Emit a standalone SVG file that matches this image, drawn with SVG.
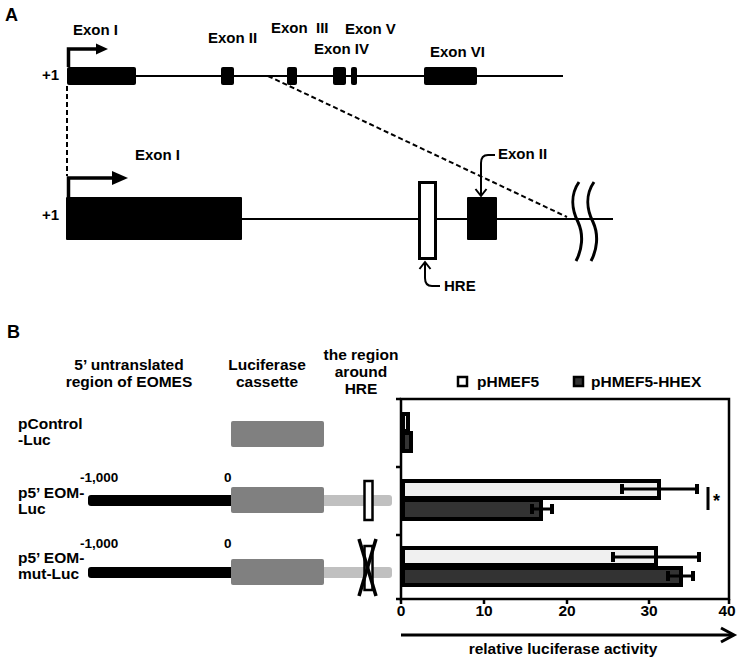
<svg xmlns="http://www.w3.org/2000/svg" width="741" height="663" viewBox="0 0 741 663">
<style>
text{font-family:"Liberation Sans",Arial,sans-serif;font-weight:bold;fill:#000}
.a{font-size:15px}
.b{font-size:15.5px}
.n{font-size:13.5px}
.ex{fill:#000}
.ln{stroke:#000;stroke-width:2;fill:none}
.dash{stroke:#000;stroke-width:2;fill:none;stroke-dasharray:5,3}
.thick{stroke:#000;stroke-width:3.5;fill:none}
.luc{fill:#808080}
.lt{fill:#c0c0c0}
.barw{fill:#f0f0f0;stroke:#000;stroke-width:4}
.bard{fill:#333;stroke:#000;stroke-width:4}
.err{stroke:#000;stroke-width:3;fill:none}
.cap{stroke:#000;stroke-width:4;fill:none}
.ax{stroke:#000;stroke-width:2.5;fill:none}
.mid{text-anchor:middle}
</style>

<!-- Panel A -->
<text x="5" y="21" style="font-size:18px">A</text>

<g id="gene-top">
<line class="ln" x1="67" y1="76" x2="563" y2="76"/>
<rect class="ex" x="67" y="67" width="69" height="18" rx="2"/>
<rect class="ex" x="221" y="67" width="13" height="18" rx="2"/>
<rect class="ex" x="287" y="67" width="10" height="18" rx="2"/>
<rect class="ex" x="333" y="67" width="13" height="18" rx="2"/>
<rect class="ex" x="351" y="67" width="6" height="18" rx="2"/>
<rect class="ex" x="424" y="67" width="53" height="18" rx="2"/>
<text class="a" x="42" y="80">+1</text>
<text class="a" x="73" y="35">Exon I</text>
<text class="a" x="208" y="43">Exon II</text>
<text class="a" x="271" y="33" xml:space="preserve">Exon  III</text>
<text class="a" x="314" y="54">Exon IV</text>
<text class="a" x="345" y="34">Exon V</text>
<text class="a" x="430" y="57">Exon VI</text>
<path class="thick" d="M68.5,67 V49 H98"/>
<polygon points="96,43.5 108,49 96,54.5"/>
</g>

<g id="gene-bottom">
<line class="ln" x1="240" y1="219" x2="613" y2="219"/>
<rect class="ex" x="66" y="197" width="176" height="43" rx="1"/>
<rect x="419.5" y="182.5" width="16" height="76" fill="#fff" stroke="#000" stroke-width="3"/>
<rect class="ex" x="467" y="197" width="30" height="43" rx="1"/>
<path d="M579,182 C570,195 572,210 578,222 C584,235 582,250 576,261" stroke="#000" stroke-width="3" fill="none"/>
<path d="M594,182 C585,195 587,210 593,222 C599,235 597,250 591,261" stroke="#000" stroke-width="3" fill="none"/>
<text class="a" x="42" y="220">+1</text>
<text class="a" x="135" y="160">Exon I</text>
<text class="a" x="498" y="159">Exon II</text>
<text class="a" x="444" y="291">HRE</text>
<path class="thick" d="M68.5,197 V178 H114"/>
<polygon points="112,171 128,178 112,185"/>
</g>

<g id="connectors">
<line class="dash" x1="67" y1="86" x2="67" y2="176"/>
<line class="dash" x1="268" y1="76" x2="567" y2="217"/>
<path class="ln" d="M495,155 H488 Q481,155 481,163 V195" stroke-width="2.5"/>
<path class="ln" d="M475.5,189 L481,196 L486.5,189" stroke-width="2.5"/>
<path class="ln" d="M440,286 H432 Q425,286 425,278 V263" stroke-width="2.5"/>
<path class="ln" d="M419.5,269 L425,262 L430.5,269" stroke-width="2.5"/>
</g>

<!-- Panel B -->
<text x="7" y="338" style="font-size:18px">B</text>

<g id="headers">
<text class="b mid" x="129" y="370">5’ untranslated</text>
<text class="b mid" x="129" y="387">region of EOMES</text>
<text class="b mid" x="267" y="370">Luciferase</text>
<text class="b mid" x="267" y="387">cassette</text>
<text class="b mid" x="361" y="360">the region</text>
<text class="b mid" x="361" y="377">around</text>
<text class="b mid" x="361" y="394">HRE</text>
</g>

<g id="construct-control">
<text class="b" x="18" y="429">pControl</text>
<text class="b" x="18" y="445">-Luc</text>
<rect class="luc" x="231" y="421" width="93" height="26" rx="2"/>
</g>

<g id="construct-eom">
<text class="b" x="18" y="498">p5’ EOM-</text>
<text class="b" x="18" y="514">Luc</text>
<text class="n" x="80" y="482">-1,000</text>
<text class="n" x="224" y="482">0</text>
<rect class="ex" x="88" y="495" width="146" height="11" rx="3"/>
<rect class="lt" x="320" y="495" width="72" height="11" rx="3"/>
<rect class="luc" x="231" y="487" width="93" height="26" rx="2"/>
<rect x="364.5" y="481" width="8" height="39" fill="#fff" stroke="#000" stroke-width="2.5"/>
</g>

<g id="construct-mut">
<text class="b" x="18" y="563">p5’ EOM-</text>
<text class="b" x="18" y="579">mut-Luc</text>
<text class="n" x="80" y="548">-1,000</text>
<text class="n" x="224" y="548">0</text>
<rect class="ex" x="88" y="567" width="146" height="11" rx="3"/>
<rect class="lt" x="320" y="567" width="72" height="11" rx="3"/>
<rect class="luc" x="231" y="559" width="93" height="26" rx="2"/>
<rect x="364.5" y="546" width="8" height="44" fill="#fff" stroke="#000" stroke-width="2.5"/>
<line x1="359" y1="539" x2="376" y2="596" stroke="#000" stroke-width="3.5"/>
<line x1="376" y1="539" x2="359" y2="596" stroke="#000" stroke-width="3.5"/>
</g>

<g id="chart">
<path class="ax" d="M401,399 H729 V599 H401 Z"/>
<path class="ax" d="M396,399 H401 M396,467 H401 M396,535 H401 M396,599 H401"/>
<path class="ax" d="M401,599 V604 M484,599 V604 M567,599 V604 M649,599 V604 M729,599 V604"/>
<text class="b mid" x="401" y="616">0</text>
<text class="b mid" x="484" y="616">10</text>
<text class="b mid" x="567" y="616">20</text>
<text class="b mid" x="649" y="616">30</text>
<text class="b mid" x="727" y="616">40</text>

<rect class="barw" x="403" y="414" width="5" height="17"/>
<rect class="bard" x="403" y="433" width="8" height="18"/>

<rect class="barw" x="403" y="481" width="256" height="17"/>
<rect class="bard" x="403" y="500" width="138" height="19"/>
<line class="err" x1="622" y1="489" x2="697" y2="489"/>
<line class="cap" x1="622" y1="484" x2="622" y2="494"/>
<line class="cap" x1="697" y1="484" x2="697" y2="494"/>
<line class="err" x1="532" y1="509" x2="552" y2="509"/>
<line class="cap" x1="532" y1="504" x2="532" y2="514"/>
<line class="cap" x1="552" y1="504" x2="552" y2="514"/>

<rect class="barw" x="403" y="548" width="253" height="17"/>
<rect class="bard" x="403" y="568" width="278" height="17"/>
<line class="err" x1="613" y1="557" x2="699" y2="557"/>
<line class="cap" x1="613" y1="552" x2="613" y2="562"/>
<line class="cap" x1="699" y1="552" x2="699" y2="562"/>
<line class="err" x1="668" y1="576" x2="693" y2="576"/>
<line class="cap" x1="668" y1="571" x2="668" y2="581"/>
<line class="cap" x1="693" y1="571" x2="693" y2="581"/>

<line x1="708" y1="487" x2="708" y2="510" stroke="#000" stroke-width="3"/>
<text x="713" y="507" style="font-size:18px">*</text>

<rect x="458" y="377" width="9" height="9" fill="#fff" stroke="#000" stroke-width="2.5"/>
<text class="b" x="477" y="387">pHMEF5</text>
<rect x="574" y="377" width="9" height="9" fill="#333" stroke="#000" stroke-width="2.5"/>
<text class="b" x="591" y="387">pHMEF5-HHEX</text>

<line x1="401" y1="635" x2="733" y2="635" stroke="#000" stroke-width="3"/>
<path d="M721,628 L734,635 L721,642" stroke="#000" stroke-width="3" fill="none"/>
<text class="b mid" x="563" y="654">relative luciferase activity</text>
</g>
</svg>
